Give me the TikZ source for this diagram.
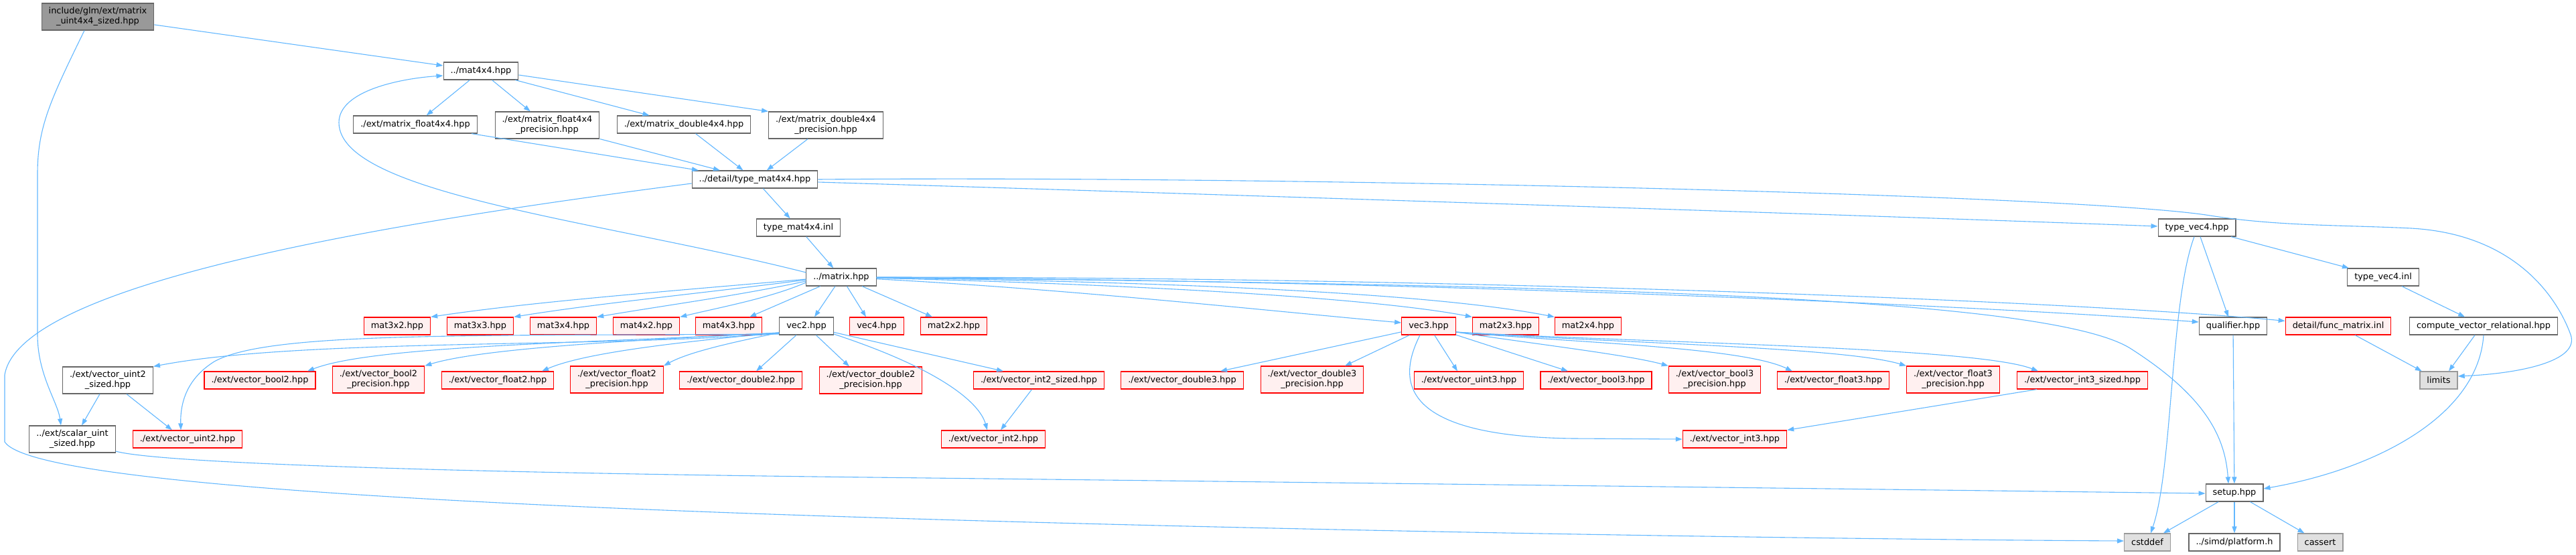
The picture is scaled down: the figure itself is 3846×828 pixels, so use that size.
\documentclass[tikz,border=0pt]{standalone}
\usepackage{fontspec}
\setmainfont{DejaVu Sans}
\usetikzlibrary{arrows.meta,calc}
\definecolor{edgec}{HTML}{63B8FF}
\definecolor{nodeb}{HTML}{666666}
\definecolor{rootf}{HTML}{999999}
\definecolor{grayf}{HTML}{E0E0E0}
\definecolor{grayb}{HTML}{999999}
\definecolor{redb}{HTML}{FF0000}
\definecolor{redf}{HTML}{FFF0F0}
\begin{document}
\begin{tikzpicture}[x=1pt,y=-1pt,
  base/.style={rectangle, line width=1.2pt, inner xsep=10.5pt, inner ysep=0pt,
    minimum height=26pt, font=\fontsize{12.9}{15}\selectfont, align=center},
  wbox/.style={base, draw=nodeb, fill=white},
  rbox/.style={base, draw=redb, fill=redf},
  gbox/.style={base, draw=grayb, fill=grayf},
  rootbox/.style={base, draw=nodeb, fill=rootf},
  two/.style={minimum height=40pt},
  edg/.style={draw=edgec, line width=1.1pt, -{Triangle[length=10pt,width=7pt]}}]
\useasboundingbox[fill=white] (0,0) rectangle (3846,828);

% nodes
\node[rootbox,two] (inc) at (146,25) {include/glm/ext/matrix\\\_uint4x4\_sized.hpp};
\node[wbox] (m44) at (718,106) {../mat4x4.hpp};
\node[wbox] (mf) at (620,186) {./ext/matrix\_float4x4.hpp};
\node[wbox,two] (mfp) at (817,187) {./ext/matrix\_float4x4\\\_precision.hpp};
\node[wbox] (md) at (1021,186) {./ext/matrix\_double4x4.hpp};
\node[wbox,two] (mdp) at (1233,187) {./ext/matrix\_double4x4\\\_precision.hpp};
\node[wbox] (tm) at (1127,268) {../detail/type\_mat4x4.hpp};
\node[wbox] (tmi) at (1192,340) {type\_mat4x4.inl};
\node[wbox] (mx) at (1256,414) {../matrix.hpp};
\node[wbox] (tv) at (3280,340) {type\_vec4.hpp};
\node[wbox] (tvi) at (3558,414) {type\_vec4.inl};

\node[rbox] (m32) at (593,487) {mat3x2.hpp};
\node[rbox] (m33) at (717,487) {mat3x3.hpp};
\node[rbox] (m34) at (841,487) {mat3x4.hpp};
\node[rbox] (m42) at (965,487) {mat4x2.hpp};
\node[rbox] (m43) at (1088,487) {mat4x3.hpp};
\node[wbox] (v2) at (1204,487) {vec2.hpp};
\node[rbox] (v4) at (1309,487) {vec4.hpp};
\node[rbox] (m22) at (1424,487) {mat2x2.hpp};
\node[rbox] (v3) at (2133,487) {vec3.hpp};
\node[rbox] (m23) at (2248,487) {mat2x3.hpp};
\node[rbox] (m24) at (2371,487) {mat2x4.hpp};
\node[wbox] (ql) at (3334,487) {qualifier.hpp};
\node[rbox] (fm) at (3491,487) {detail/func\_matrix.inl};
\node[wbox] (cvr) at (3708,487) {compute\_vector\_relational.hpp};

\node[wbox,two] (vu2s) at (161,568) {./ext/vector\_uint2\\\_sized.hpp};
\node[rbox] (vb2) at (388,568) {./ext/vector\_bool2.hpp};
\node[rbox,two] (vb2p) at (565,567) {./ext/vector\_bool2\\\_precision.hpp};
\node[rbox] (vf2) at (743,568) {./ext/vector\_float2.hpp};
\node[rbox,two] (vf2p) at (921,567) {./ext/vector\_float2\\\_precision.hpp};
\node[rbox] (vd2) at (1106,568) {./ext/vector\_double2.hpp};
\node[rbox,two] (vd2p) at (1300,568) {./ext/vector\_double2\\\_precision.hpp};
\node[rbox] (vi2s) at (1551,568) {./ext/vector\_int2\_sized.hpp};
\node[rbox] (vd3) at (1765,568) {./ext/vector\_double3.hpp};
\node[rbox,two] (vd3p) at (1959,567) {./ext/vector\_double3\\\_precision.hpp};
\node[rbox] (vu3) at (2193,568) {./ext/vector\_uint3.hpp};
\node[rbox] (vb3) at (2383,568) {./ext/vector\_bool3.hpp};
\node[rbox,two] (vb3p) at (2560,567) {./ext/vector\_bool3\\\_precision.hpp};
\node[rbox] (vf3) at (2737,568) {./ext/vector\_float3.hpp};
\node[rbox,two] (vf3p) at (2916,567) {./ext/vector\_float3\\\_precision.hpp};
\node[rbox] (vi3s) at (3109,568) {./ext/vector\_int3\_sized.hpp};
\node[gbox] (lim) at (3641,568) {limits};

\node[wbox,two] (sus) at (108,656) {../ext/scalar\_uint\\\_sized.hpp};
\node[rbox] (vu2) at (280,656) {./ext/vector\_uint2.hpp};
\node[rbox] (vi2) at (1483,656) {./ext/vector\_int2.hpp};
\node[rbox] (vi3) at (2590,656) {./ext/vector\_int3.hpp};

\node[wbox] (st) at (3336,736) {setup.hpp};
\node[gbox] (cd) at (3206,810) {cstddef};
\node[wbox] (pl) at (3336,810) {../simd/platform.h};
\node[gbox] (ca) at (3464,810) {cassert};

% edges from root
\draw[edg] (inc) -- (m44);
\draw[edg] ($(inc.south)+(-20,0)$) .. controls (75,150) and (56,190) .. (56,260)
  -- (56,500) .. controls (56,560) and (86,600) .. ($(sus.north)+(-17,0)$);

% mat4x4
\draw[edg] (m44) -- (mf);
\draw[edg] (m44) -- (mfp);
\draw[edg] (m44) -- (md);
\draw[edg] ($(m44.east)+(0,6)$) -- (mdp.north west);

\draw[edg] (mf) -- (tm);
\draw[edg] (mfp) -- (tm);
\draw[edg] (md) -- (tm);
\draw[edg] (mdp) -- (tm);

% type_mat4x4
\draw[edg] (tm) -- (tmi);
\draw[edg] ($(tm.east)+(0,4)$) .. controls (1800,290) and (2800,322) .. ($(tv.west)+(0,-2)$);
\draw[edg] (tm.east) .. controls (1900,262) and (3100,290) .. (3300,322)
  .. controls (3400,338) and (3500,336) .. (3600,341)
  .. controls (3760,350) and (3820,450) .. (3838,500)
  .. controls (3852,540) and (3760,558) .. ($(lim.east)+(0,-6)$);
\draw[edg] ($(tm.west)+(0,6)$) .. controls (600,330) and (30,420) .. (7,560)
  -- (7,660) .. controls (30,695) and (250,740) .. (1300,773)
  .. controls (2000,795) and (2800,806) .. ($(cd.west)+(0,-2)$);

\draw[edg] (tmi) -- (mx);

% matrix.hpp
\draw[edg] ($(mx.west)+(0,-7)$) .. controls (900,330) and (506,290) .. (506,183)
  .. controls (506,135) and (600,117) .. ($(m44.west)+(0,7)$);
\draw[edg] ($(mx.west)+(0,3)$) .. controls (1000,435) and (800,450) .. (m32.north east);
\draw[edg] ($(mx.west)+(0,4)$) .. controls (1050,438) and (900,452) .. (m33.north east);
\draw[edg] ($(mx.west)+(0,6)$) .. controls (1100,442) and (1000,455) .. (m34.north east);
\draw[edg] ($(mx.west)+(0,8)$) .. controls (1150,445) and (1080,458) .. (m42.north east);
\draw[edg] (mx) -- ($(m43.north)+(31,0)$);
\draw[edg] (mx) -- ($(v2.north)+(12,0)$);
\draw[edg] (mx) -- ($(v4.north)+(-16,0)$);
\draw[edg] (mx) -- ($(m22.north)+(-32,0)$);
\draw[edg] (mx) .. controls (1600,432) and (1900,465) .. ($(v3.west)+(0,-5)$);
\draw[edg] (mx) .. controls (1700,425) and (2050,445) .. (m23.north west);
\draw[edg] (mx) .. controls (1800,422) and (2150,440) .. (m24.north west);
\draw[edg] (mx) .. controls (2200,420) and (3000,460) .. ($(ql.west)+(0,-6)$);
\draw[edg] (mx) .. controls (2200,414) and (3100,450) .. ($(fm.north west)+(0,6)$);
\draw[edg] (mx) .. controls (2300,425) and (3050,440) .. (3180,520)
  .. controls (3290,590) and (3322,650) .. ($(st.north)+(-9,0)$);

% vec2.hpp
\draw[edg] ($(v2.west)+(0,11)$) .. controls (900,520) and (450,505) .. (vu2s.north east);
\draw[edg] ($(v2.west)+(0,12)$) .. controls (700,502) and (400,495) .. (320,540)
  .. controls (280,565) and (269,600) .. ($(vu2.north)+(-10,0)$);
\draw[edg] ($(v2.west)+(0,10)$) .. controls (900,512) and (560,515) .. ($(vb2.north)+(71,0)$);
\draw[edg] ($(v2.west)+(0,10)$) .. controls (950,508) and (720,520) .. (vb2p.north east);
\draw[edg] ($(v2.west)+(0,10)$) .. controls (1000,512) and (870,528) .. ($(vf2.north)+(66,0)$);
\draw[edg] ($(v2.west)+(0,10)$) .. controls (1100,510) and (1030,525) .. (vf2p.north east);
\draw[edg] (v2) -- ($(vd2.north)+(23,0)$);
\draw[edg] (v2) -- ($(vd2p.north)+(-32,0)$);
\draw[edg] (v2) -- ($(vi2s.north)+(-53,0)$);
\draw[edg] ($(v2.east)+(0,12)$) .. controls (1400,550) and (1462,600) .. ($(vi2.north)+(-9,0)$);

\draw[edg] ($(vu2s.south)+(-12,0)$) -- ($(sus.north)+(14,0)$);
\draw[edg] ($(vu2s.south)+(28,0)$) -- ($(vu2.north)+(-23,0)$);
\draw[edg] (vi2s) -- ($(vi2.north)+(11,0)$);

% vec3.hpp
\draw[edg] (v3) -- ($(vd3.north)+(57,0)$);
\draw[edg] (v3) -- ($(vd3p.north)+(49,0)$);
\draw[edg] (v3) -- ($(vu3.north)+(-17,0)$);
\draw[edg] (v3) -- ($(vb3.north)+(-42,0)$);
\draw[edg] ($(v3.east)+(0,9)$) .. controls (2300,515) and (2430,530) .. (vb3p.north west);
\draw[edg] ($(v3.east)+(0,9)$) .. controls (2350,512) and (2600,518) .. ($(vf3.north)+(-61,0)$);
\draw[edg] ($(v3.east)+(0,9)$) .. controls (2400,512) and (2750,518) .. (vf3p.north west);
\draw[edg] ($(v3.east)+(0,9)$) .. controls (2450,512) and (2950,518) .. ($(vi3s.north)+(-66,0)$);
\draw[edg] ($(v3.south)+(-13,0)$) .. controls (2085,570) and (2090,652) .. (2350,655) -- (vi3.west);
\draw[edg] ($(vi3s.south)+(-68,0)$) -- (vi3.north east);

% type_vec4
\draw[edg] ($(tv.south)+(-4,0)$) .. controls (3240,450) and (3244,700) .. ($(cd.north)+(5,0)$);
\draw[edg] ($(tv.south)+(5,0)$) -- ($(ql.north)+(-7,0)$);
\draw[edg] (tv) -- (tvi);
\draw[edg] (tvi) -- (cvr);
\draw[edg] (fm) -- (lim);
\draw[edg] ($(cvr.south)+(-13,0)$) -- ($(lim.north)+(15,0)$);
\draw[edg] (cvr.south) .. controls (3700,620) and (3550,700) .. ($(st.east)+(0,-6)$);
\draw[edg] (ql) -- (st);

% scalar_uint -> setup
\draw[edg] ($(sus.east)+(0,18)$) .. controls (230,690) and (600,705) .. (1300,713)
  .. controls (2000,721) and (2900,732) .. ($(st.west)+(0,1)$);

% setup
\draw[edg] (st) -- (cd);
\draw[edg] (st) -- (pl);
\draw[edg] (st) -- (ca);
\end{tikzpicture}
\end{document}
